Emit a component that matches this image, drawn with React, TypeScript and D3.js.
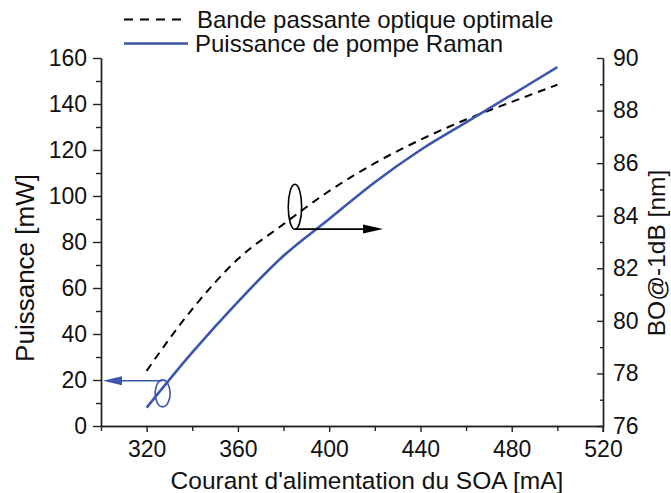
import { useEffect, useRef } from 'react';
import * as d3 from 'd3';

// SOA drive current (mA)
const current = [320, 340, 360, 380, 400, 420, 440, 460, 480, 500];
// Raman pump power (mW), left axis
const pumpPower = [8, 32, 54, 74, 90, 106, 120, 132, 144, 156];
// optimal optical bandwidth BO@-1dB (nm), right axis
const bandwidth = [78.1, 80.45, 82.35, 83.68, 84.94, 86.0, 86.89, 87.66, 88.33, 88.98];

const xMajor = [320, 360, 400, 440, 480, 520];
const xMinor = [300, 340, 380, 420, 460, 500];
const yLeftMajor = [0, 20, 40, 60, 80, 100, 120, 140, 160];
const yLeftMinor = [10, 30, 50, 70, 90, 110, 130, 150];
const yRightMajor = [76, 78, 80, 82, 84, 86, 88, 90];
const yRightMinor = [77, 79, 81, 83, 85, 87, 89];

const legendLabels = ['Bande passante optique optimale', 'Puissance de pompe Raman'];

const BLUE = '#3d55ad';
const FONT = '"Liberation Sans", Arial, sans-serif';

export default function App() {
  const svgRef = useRef<SVGSVGElement>(null);

  useEffect(() => {
    if (!svgRef.current) return;
    const svg = d3.select(svgRef.current);
    svg.selectAll('*').remove();

    const width = 671;
    const height = 493;
    const margin = { top: 58, right: 68, bottom: 67, left: 101 };

    const x = d3.scaleLinear().domain([300, 520]).range([margin.left, width - margin.right]);
    const yL = d3.scaleLinear().domain([0, 160]).range([height - margin.bottom, margin.top]);
    const yR = d3.scaleLinear().domain([76, 90]).range([height - margin.bottom, margin.top]);

    svg.append('rect').attr('width', width).attr('height', height).attr('fill', '#fff');

    const styleAxis = (g: any, size: number) => {
      g.selectAll('path').attr('stroke', '#222').attr('stroke-width', 1.4);
      g.selectAll('line').attr('stroke', '#222').attr('stroke-width', 1.4);
      g.selectAll('text')
        .attr('fill', '#111')
        .style('font-family', FONT)
        .style('font-size', `${size}px`);
    };

    // bottom axis
    const bottom = svg.append('g').attr('transform', `translate(0,${height - margin.bottom})`);
    bottom.append('g')
      .call(d3.axisBottom(x).tickValues(xMinor).tickSize(5).tickSizeOuter(0).tickFormat(() => ''))
      .call(styleAxis, 23);
    bottom.append('g')
      .call(d3.axisBottom(x).tickValues(xMajor).tickSize(6).tickSizeOuter(0).tickPadding(9))
      .call(styleAxis, 23);

    // left axis
    const left = svg.append('g').attr('transform', `translate(${margin.left},0)`);
    left.append('g')
      .call(d3.axisLeft(yL).tickValues(yLeftMinor).tickSize(5).tickSizeOuter(0).tickFormat(() => ''))
      .call(styleAxis, 23);
    left.append('g')
      .call(d3.axisLeft(yL).tickValues(yLeftMajor).tickSize(8).tickSizeOuter(0).tickPadding(6))
      .call(styleAxis, 23);

    // right axis (ticks inward)
    const right = svg.append('g').attr('transform', `translate(${width - margin.right},0)`);
    right.append('g')
      .call(d3.axisRight(yR).tickValues(yRightMinor).tickSize(-3).tickSizeOuter(0).tickFormat(() => ''))
      .call(styleAxis, 23);
    right.append('g')
      .call(d3.axisRight(yR).tickValues(yRightMajor).tickSize(-6).tickSizeOuter(0).tickPadding(10))
      .call(styleAxis, 23);
    // right axis runs a little below the baseline, as in the reference
    right.append('line')
      .attr('x1', 0).attr('x2', 0)
      .attr('y1', height - margin.bottom).attr('y2', height - margin.bottom + 6)
      .attr('stroke', '#222').attr('stroke-width', 1.4);

    // axis titles
    svg.append('text')
      .attr('x', 367).attr('y', 489)
      .attr('text-anchor', 'middle')
      .style('font-family', FONT).style('font-size', '24.5px').attr('fill', '#111')
      .text("Courant d'alimentation du SOA [mA]");

    svg.append('text')
      .attr('transform', 'translate(34,268) rotate(-90)')
      .attr('text-anchor', 'middle')
      .style('font-family', FONT).style('font-size', '26px').attr('fill', '#111')
      .text('Puissance [mW]');

    svg.append('text')
      .attr('transform', 'translate(665,253) rotate(-90)')
      .attr('text-anchor', 'middle')
      .style('font-family', FONT).style('font-size', '24.5px').attr('fill', '#111')
      .text('BO@-1dB [nm]');

    // series
    const bwLine = d3.line<number>()
      .x((_, i) => x(current[i]))
      .y(d => yR(d))
      .curve(d3.curveMonotoneX);

    svg.append('path')
      .datum(bandwidth)
      .attr('d', bwLine)
      .attr('fill', 'none')
      .attr('stroke', '#000')
      .attr('stroke-width', 2)
      .attr('stroke-dasharray', '8,6');

    const pumpLine = d3.line<number>()
      .x((_, i) => x(current[i]))
      .y(d => yL(d))
      .curve(d3.curveMonotoneX);

    svg.append('path')
      .datum(pumpPower)
      .attr('d', pumpLine)
      .attr('fill', 'none')
      .attr('stroke', BLUE)
      .attr('stroke-width', 2.6);

    // annotation: pump curve -> left axis
    const lx = x(327), ly = yL(14.2);
    svg.append('ellipse')
      .attr('cx', lx).attr('cy', ly).attr('rx', 7.5).attr('ry', 13.5)
      .attr('fill', 'none').attr('stroke', BLUE).attr('stroke-width', 1.6);
    const la = yL(19.7);
    svg.append('line')
      .attr('x1', lx).attr('x2', x(300) + 16)
      .attr('y1', la).attr('y2', la)
      .attr('stroke', BLUE).attr('stroke-width', 1.6);
    svg.append('path')
      .attr('d', `M${x(300) + 2},${la} L${x(300) + 21},${la - 4.5} L${x(300) + 21},${la + 4.5} Z`)
      .attr('fill', BLUE);

    // annotation: bandwidth curve -> right axis
    const rx = x(385), ry = yR(84.34);
    svg.append('ellipse')
      .attr('cx', rx).attr('cy', ry).attr('rx', 6.7).attr('ry', 22.5)
      .attr('fill', 'none').attr('stroke', '#000').attr('stroke-width', 1.6);
    const ra = yR(83.49);
    const rEnd = x(423.6);
    svg.append('line')
      .attr('x1', rx).attr('x2', rEnd - 16)
      .attr('y1', ra).attr('y2', ra)
      .attr('stroke', '#000').attr('stroke-width', 1.6);
    svg.append('path')
      .attr('d', `M${rEnd},${ra} L${rEnd - 20},${ra - 4.5} L${rEnd - 20},${ra + 4.5} Z`)
      .attr('fill', '#000');

    // legend
    const legend = svg.append('g');
    legendLabels.forEach((label, i) => {
      const ly0 = 19.5 + i * 24;
      legend.append('line')
        .attr('x1', 124).attr('x2', 188)
        .attr('y1', ly0).attr('y2', ly0)
        .attr('stroke', i === 0 ? '#000' : BLUE)
        .attr('stroke-width', i === 0 ? 2 : 2.6)
        .attr('stroke-dasharray', i === 0 ? '9,7' : null);
      legend.append('text')
        .attr('x', i === 0 ? 197 : 195)
        .attr('y', ly0 + 8.3)
        .style('font-family', FONT).style('font-size', '24px').attr('fill', '#111')
        .text(label);
    });
  }, []);

  return (
    <svg
      ref={svgRef}
      width={671}
      height={493}
      style={{ position: 'absolute', left: 0, top: 0, display: 'block' }}
    />
  );
}
